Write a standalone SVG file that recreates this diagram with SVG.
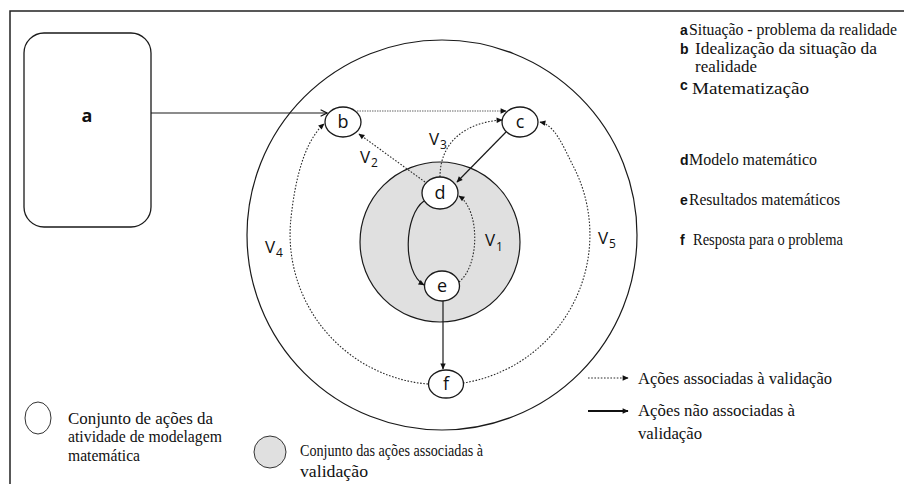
<svg xmlns="http://www.w3.org/2000/svg" width="904" height="484" viewBox="0 0 904 484">
<style>
.ln{fill:none;stroke:#1a1a1a;stroke-width:1.2}
.dot{fill:none;stroke:#2a2a2a;stroke-width:1.1;stroke-dasharray:1.6,1.6}
.nd{fill:#fff;stroke:#1a1a1a;stroke-width:1.3}
.nl{font-family:"Open Sans","Liberation Sans",sans-serif;font-size:18px;fill:#111;text-anchor:middle}
.vl{font-family:"Open Sans","Liberation Sans",sans-serif;font-size:17px;fill:#111}
.vs{font-family:"Open Sans","Liberation Sans",sans-serif;font-size:12px;fill:#111}
.lg{font-family:"Liberation Sans",sans-serif;font-size:14px;font-weight:bold;fill:#111}
.tx{font-family:"Liberation Serif","Times New Roman",serif;font-size:16px;fill:#111}
</style>
<defs>
<marker id="ah" viewBox="0 0 10 10" refX="9" refY="5" markerWidth="7" markerHeight="6" markerUnits="userSpaceOnUse" orient="auto"><path d="M0,0.5 L10,5 L0,9.5 z" fill="#111"/></marker>
<marker id="oa" viewBox="0 0 10 10" refX="9" refY="5" markerWidth="8" markerHeight="8" markerUnits="userSpaceOnUse" orient="auto"><path d="M1,1 L9,5 L1,9" fill="none" stroke="#111" stroke-width="1.4"/></marker>
</defs>
<rect width="904" height="484" fill="#fff"/>
<path d="M10,484 V11 H904" fill="none" stroke="#222" stroke-width="1.5"/>

<g id="sets">
<circle cx="442" cy="235" r="195" class="ln"/>
<circle cx="440" cy="242" r="80" fill="#e0e0e0" stroke="#1a1a1a" stroke-width="1.2"/>
</g>

<g id="node-a">
<rect x="24" y="33" width="127" height="194" rx="20" ry="20" class="nd"/>
<text x="87" y="122" class="nl" font-weight="bold" font-size="16">a</text>
</g>

<g id="connectors">
<path d="M151,113 L327,113" class="ln" marker-end="url(#oa)"/>
<path d="M357,111 L506,111" fill="none" stroke="#666" stroke-width="1.2" stroke-dasharray="1.5,1" marker-end="url(#ah)"/>
<path d="M506,132 L457,182" class="ln" marker-end="url(#ah)"/>
<path d="M425,182 L359,134" class="dot" marker-end="url(#ah)"/>
<path d="M440,177 C440,140 468,122 502,120" class="dot" marker-end="url(#ah)"/>
<path d="M424,201 C404,215 402,272 424,285" class="ln" marker-end="url(#ah)"/>
<path d="M459,282 C480,265 480,210 459,196" class="dot" marker-end="url(#ah)"/>
<path d="M443,301 L443,369" class="ln" marker-end="url(#ah)"/>
<path d="M428,384 A150,150 0 0 1 290.6,222 C293,197 300,145 324,124" class="dot" marker-end="url(#ah)"/>
<path d="M463,383 A150,150 0 0 0 572.7,165 C563,146 555,125 540,122" class="dot" marker-end="url(#ah)"/>
</g>

<g id="node-b"><ellipse cx="343" cy="122" rx="18" ry="15" class="nd"/><text x="343" y="128" class="nl">b</text></g>
<g id="node-c"><ellipse cx="520" cy="122" rx="18" ry="15" class="nd"/><text x="520" y="128" class="nl">c</text></g>
<g id="node-d"><ellipse cx="440" cy="193" rx="18" ry="16" class="nd"/><text x="440" y="199" class="nl">d</text></g>
<g id="node-e"><ellipse cx="442" cy="286" rx="17.5" ry="15" class="nd"/><text x="442" y="292" class="nl">e</text></g>
<g id="node-f"><ellipse cx="446" cy="384" rx="17.5" ry="14" class="nd"/><text x="446" y="390" class="nl">f</text></g>

<g id="labels">
<text x="485" y="246" class="vl">V</text><text x="496" y="251" class="vs">1</text>
<text x="360" y="163" class="vl">V</text><text x="371" y="167" class="vs">2</text>
<text x="429" y="145" class="vl">V</text><text x="440" y="149" class="vs">3</text>
<text x="265" y="253" class="vl">V</text><text x="276" y="257" class="vs">4</text>
<text x="598" y="244" class="vl">V</text><text x="609" y="248" class="vs">5</text>
</g>

<g id="legend-nodes">
<text x="680" y="35" class="lg">a</text><text x="689" y="35" class="tx" textLength="208" lengthAdjust="spacingAndGlyphs">Situação - problema da realidade</text>
<text x="680" y="54" class="lg">b</text><text x="695" y="54" class="tx" textLength="182" lengthAdjust="spacingAndGlyphs">Idealização da situação da</text>
<text x="695" y="72" class="tx" textLength="62" lengthAdjust="spacingAndGlyphs">realidade</text>
<text x="680" y="90" class="lg">c</text><text x="692" y="94" class="tx" textLength="117" lengthAdjust="spacingAndGlyphs">Matematização</text>
<text x="680" y="165" class="lg">d</text><text x="689" y="165" class="tx" textLength="128" lengthAdjust="spacingAndGlyphs">Modelo matemático</text>
<text x="680" y="205" class="lg">e</text><text x="689" y="205" class="tx" textLength="151" lengthAdjust="spacingAndGlyphs">Resultados matemáticos</text>
<text x="680" y="245" class="lg">f</text><text x="693" y="245" class="tx" textLength="150" lengthAdjust="spacingAndGlyphs">Resposta para o problema</text>
</g>

<g id="legend-lines">
<path d="M588,378 L628,378" class="dot" marker-end="url(#ah)"/>
<text x="638" y="384" class="tx" textLength="194" lengthAdjust="spacingAndGlyphs">Ações associadas à validação</text>
<path d="M588,411 L628,411" fill="none" stroke="#111" stroke-width="2.2" marker-end="url(#ah)"/>
<text x="638" y="416" class="tx" textLength="157" lengthAdjust="spacingAndGlyphs">Ações não associadas à</text>
<text x="638" y="439" class="tx" textLength="64" lengthAdjust="spacingAndGlyphs">validação</text>
</g>

<g id="legend-sets">
<ellipse cx="38" cy="418" rx="13" ry="16" fill="#fff" stroke="#333" stroke-width="1"/>
<text x="68" y="424" class="tx" textLength="145" lengthAdjust="spacingAndGlyphs">Conjunto de ações  da</text>
<text x="68" y="442" class="tx" textLength="154" lengthAdjust="spacingAndGlyphs">atividade de modelagem</text>
<text x="68" y="461" class="tx" textLength="72" lengthAdjust="spacingAndGlyphs">matemática</text>
<ellipse cx="270" cy="452" rx="16" ry="16" fill="#e0e0e0" stroke="#333" stroke-width="1"/>
<text x="300" y="456" class="tx" textLength="183" lengthAdjust="spacingAndGlyphs">Conjunto das ações associadas à</text>
<text x="300" y="477" class="tx" textLength="68" lengthAdjust="spacingAndGlyphs">validação</text>
</g>
</svg>
